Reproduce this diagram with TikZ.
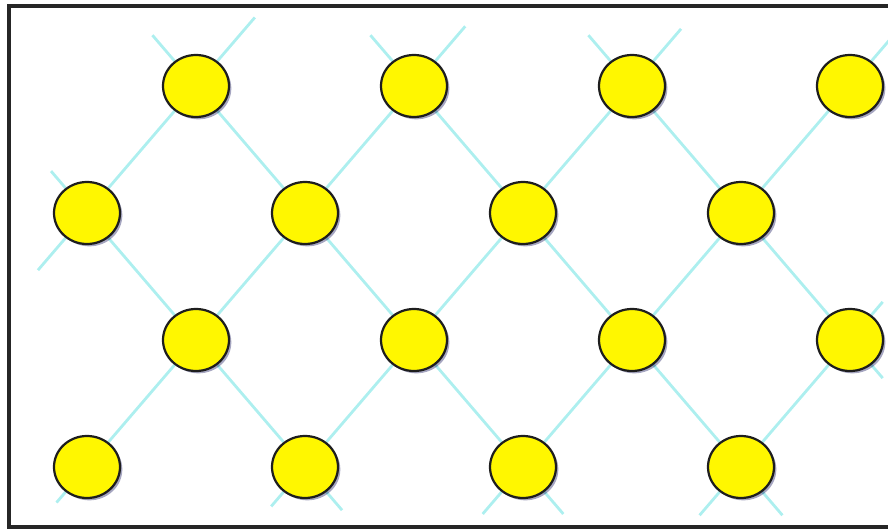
\documentclass[tikz,border=0pt]{standalone}
\usetikzlibrary{calc,shapes.geometric,shadows,backgrounds}
\definecolor{bead}{HTML}{FFF700}
\definecolor{beadline}{HTML}{1E1E1E}
\definecolor{bondc}{HTML}{ADEFEF}
\definecolor{frame}{HTML}{262626}

\begin{document}
\begin{tikzpicture}[
    x=0.03cm,y=-0.03cm,
    % --- lattice sites -----------------------------------------------
    site/.style={ellipse,minimum width=1.98cm,minimum height=1.86cm,
                 inner sep=0pt,fill=bead,draw=beadline,line width=1.9pt,
                 drop shadow={shadow xshift=2pt,shadow yshift=-2pt,
                              opacity=0.35,fill=black!70!blue}},
    % --- bonds and frame ---------------------------------------------
    bond/.style={draw=bondc,line width=2.4pt},
    rim/.style={draw=frame,line width=2.6pt},
  ]

\useasboundingbox (0,0) rectangle (888,531);
\clip (0,0) rectangle (888,531);

% =====================================================================
%  Sites (row i, column j), staggered
% =====================================================================
\foreach \i in {0,...,3}{
  \foreach \j in {0,...,7}{
    \pgfmathtruncatemacro{\odd}{mod(\i+\j,2)}
    \ifnum\odd=1
      \node[site] (n-\i-\j) at ({87+109*\j},{86+127*\i}) {};
    \fi
  }
}

% =====================================================================
%  Bonds between neighbouring rows
% =====================================================================
\begin{scope}[on background layer]
\foreach \i in {0,1,2}{
  \foreach \j in {0,...,7}{
    \pgfmathtruncatemacro{\odd}{mod(\i+\j,2)}
    \pgfmathtruncatemacro{\k}{\i+1}
    \pgfmathtruncatemacro{\l}{\j-1}
    \pgfmathtruncatemacro{\r}{\j+1}
    \ifnum\odd=1
      \ifnum\j>0 \draw[bond] (n-\i-\j) -- (n-\k-\l); \fi
      \ifnum\j<7 \draw[bond] (n-\i-\j) -- (n-\k-\r); \fi
    \fi
  }
}

% ---- loose ends at the rim ------------------------------------------
\foreach \a/\b/\f in {n-0-1/n-1-2/0.40, n-0-1/n-1-0/0.54,
                      n-0-3/n-1-4/0.40, n-0-3/n-1-2/0.47,
                      n-0-5/n-1-6/0.40, n-0-5/n-1-4/0.45,
                      n-0-7/n-1-6/0.50,
                      n-1-0/n-2-1/0.33, n-1-0/n-0-1/0.45,
                      n-2-7/n-3-6/0.30, n-2-7/n-1-6/0.30,
                      n-3-0/n-2-1/0.28,
                      n-3-2/n-2-3/0.31, n-3-2/n-2-1/0.34,
                      n-3-4/n-2-5/0.37, n-3-4/n-2-3/0.37,
                      n-3-6/n-2-7/0.38, n-3-6/n-2-5/0.38}{
  \coordinate (s-\a-\b) at ($(\a)!-\f!(\b)$);
  \draw[bond] (\a) -- (s-\a-\b);
}
\end{scope}

% =====================================================================
%  Frame (open on the right)
% =====================================================================
\draw[rim] (890,6) -- (9,6) -- (9,527) -- (890,527);

\end{tikzpicture}
\end{document}
